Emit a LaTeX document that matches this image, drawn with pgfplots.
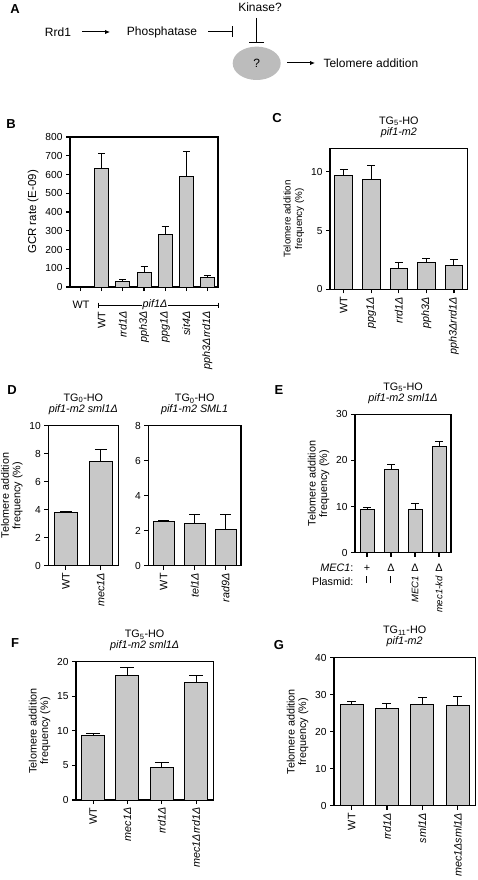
\documentclass[border=0pt]{standalone}
\usepackage{fontspec}
\setmainfont{Liberation Sans}
\usepackage{pgfplots}
\pgfplotsset{compat=1.18}
\usetikzlibrary{arrows.meta}
\definecolor{barfill}{RGB}{200,200,200}
\definecolor{ellfill}{RGB}{188,188,188}
\newcommand{\pf}{\fontsize{10.8}{11.5}\selectfont}
\newcommand{\tf}{\fontsize{10.2}{11}\selectfont}
\newcommand{\af}{\fontsize{12}{14}\selectfont}
\newcommand{\lf}{\bfseries\fontsize{13}{13}\selectfont}
\newcommand{\plasdash}{\raisebox{0.3ex}{\rule{7pt}{0.9pt}}}
\pgfplotsset{
  panel/.style={
    scale only axis, anchor=south west,
    ybar, ymin=0, clip=false,
    axis line style={line width=1.3pt},
    tick style={black, line width=1.2pt},
    major tick length=4pt,
    tick align=outside,
    tick pos=left,
    xtick=data,
    x tick label style={rotate=90, anchor=east, font=\pf},
    y tick label style={font=\tf},
    /pgf/number format/assume math mode=true,
    label style={font=\pf, align=center},
    title style={font=\pf, align=center, yshift=1pt},
  },
  bars/.style={fill=barfill, draw=black, line width=1pt,
    error bars/.cd, y dir=plus, y explicit,
    error bar style={line width=1pt, black},
    error mark options={rotate=90, line width=1pt, black, mark size=#1}},
}
\begin{document}
\begin{tikzpicture}
\path[use as bounding box] (0pt,0pt) rectangle (478pt,-880pt);

% ---------------- Panel A ----------------
\node[font=\lf] at (15pt,-9.5pt) {A};
\begin{scope}[font=\af]
\node at (58pt,-32pt) {Rrd1};
\draw[line width=1pt,-{Latex[length=5pt,width=4.5pt]}] (82pt,-32pt) -- (110pt,-32pt);
\node at (162pt,-32pt) {Phosphatase};
\draw[line width=1pt,-{Bar[width=11pt]}] (208pt,-32pt) -- (233pt,-32pt);
\node at (260pt,-7.5pt) {Kinase?};
\draw[line width=1pt,-{Bar[width=15pt]}] (256.7pt,-18pt) -- (256.7pt,-43pt);
\fill[ellfill] (256.7pt,-63.3pt) ellipse (24pt and 16.7pt);
\node at (256.7pt,-63.3pt) {?};
\draw[line width=1pt,-{Latex[length=5pt,width=4.5pt]}] (287pt,-63pt) -- (315pt,-63pt);
\node[anchor=west] at (320pt,-63pt) {Telomere addition};
\end{scope}

% ---------------- Panel B ----------------
\node[font=\lf] at (11pt,-124pt) {B};
\begin{axis}[panel, at={(70pt,-287pt)}, width=148pt, height=150pt,
  xmin=-0.5, xmax=6.5, ymax=800, ytick={0,100,...,800},
  bar width=14pt, xticklabel shift=17pt,
  xticklabels={,WT,\textit{rrd1Δ},\textit{pph3Δ},\textit{ppg1Δ},\textit{sit4Δ},\textit{pph3Δrrd1Δ}},
  ylabel={\fontsize{11.5}{12}\selectfont GCR rate (E-09)}]
\addplot[bars=3.5pt] coordinates {(0,4) +- (0,0) (1,631) +- (0,80) (2,27) +- (0,12) (3,78) +- (0,32) (4,281) +- (0,44) (5,592) +- (0,132) (6,52) +- (0,12)};
\end{axis}
\node[font=\pf] at (81pt,-305pt) {WT};
\draw[line width=0.8pt] (98pt,-305pt) -- (218pt,-305pt);
\draw[line width=0.8pt] (98pt,-302.5pt) -- (98pt,-307.5pt);
\draw[line width=0.8pt] (218pt,-302.5pt) -- (218pt,-307.5pt);
\node[font=\pf, fill=white, inner sep=1pt] at (155pt,-305pt) {\textit{pif1Δ}};

% ---------------- Panel C ----------------
\node[font=\lf] at (277pt,-118pt) {C};
\begin{axis}[panel, at={(330pt,-289.3pt)}, width=137.7pt, height=141pt,
  xmin=-0.5, xmax=4.5, ymax=12, ytick={0,5,10},
  bar width=17.7pt,
  xticklabels={WT,\textit{ppg1Δ},\textit{rrd1Δ},\textit{pph3Δ},\textit{pph3Δrrd1Δ}},
  title={TG\textsubscript{5}-HO\\\textit{pif1-m2}},
  ylabel={\fontsize{9.8}{11}\selectfont Telomere addition\\\fontsize{9.8}{11}\selectfont frequency (\%)}]
\addplot[bars=4pt] coordinates {(0,9.72) +- (0,0.48) (1,9.35) +- (0,1.15) (2,1.78) +- (0,0.51) (3,2.32) +- (0,0.31) (4,2.0) +- (0,0.55)};
\end{axis}

% ---------------- Panel D ----------------
\node[font=\lf] at (12pt,-390pt) {D};
\begin{axis}[panel, at={(48.3pt,-565.5pt)}, width=70pt, height=140pt,
  xmin=-0.5, xmax=1.5, ymax=10, ytick={0,2,...,10},
  bar width=23pt,
  xticklabels={WT,\textit{mec1Δ}},
  title={TG\textsubscript{0}-HO\\\textit{pif1-m2 sml1Δ}},
  ylabel={Telomere addition\\frequency (\%)}]
\addplot[bars=6pt] coordinates {(0,3.77) +- (0,0.07) (1,7.45) +- (0,0.85)};
\end{axis}
\begin{axis}[panel, at={(148.3pt,-565.7pt)}, width=92.7pt, height=140pt,
  xmin=-0.5, xmax=2.5, ymax=8, ytick={0,2,...,8},
  bar width=21pt,
  xticklabels={WT,\textit{tel1Δ},\textit{rad9Δ}},
  title={TG\textsubscript{0}-HO\\\textit{pif1-m2 SML1}}]
\addplot[bars=5.3pt] coordinates {(0,2.51) +- (0,0.08) (1,2.4) +- (0,0.55) (2,2.06) +- (0,0.89)};
\end{axis}

% ---------------- Panel E ----------------
\node[font=\lf] at (279pt,-390pt) {E};
\begin{axis}[panel, at={(355pt,-552.7pt)}, width=96pt, height=138.4pt,
  xmin=-0.5, xmax=3.5, ymax=30, ytick={0,10,20,30},
  bar width=14pt, xticklabel shift=16pt,
  x tick label style={font=\fontsize{9.5}{10}\selectfont},
  xticklabels={\plasdash,\plasdash,\textit{MEC1},\textit{mec1-kd}},
  title={TG\textsubscript{5}-HO\\\textit{pif1-m2 sml1Δ}},
  ylabel={Telomere addition\\frequency (\%)}]
\addplot[bars=3.7pt] coordinates {(0,9.4) +- (0,0.3) (1,18.1) +- (0,1.1) (2,9.4) +- (0,1.2) (3,23.0) +- (0,1.0)};
\node[font=\pf] at (axis cs:0,0) [yshift=-15.5pt] {+};
\node[font=\pf] at (axis cs:1,0) [yshift=-15.5pt] {Δ};
\node[font=\pf] at (axis cs:2,0) [yshift=-15.5pt] {Δ};
\node[font=\pf] at (axis cs:3,0) [yshift=-15.5pt] {Δ};
\node[font=\pf, anchor=east] at (rel axis cs:0,0) [xshift=2pt, yshift=-15.5pt] {\textit{MEC1}:};
\node[font=\pf, anchor=east] at (rel axis cs:0,0) [xshift=2pt, yshift=-29pt] {Plasmid:};
\end{axis}

% ---------------- Panel F ----------------
\node[font=\lf] at (15pt,-643pt) {F};
\begin{axis}[panel, at={(76pt,-800pt)}, width=137.3pt, height=138.3pt,
  xmin=-0.5, xmax=3.5, ymax=20, ytick={0,5,...,20},
  bar width=23pt,
  xticklabels={WT,\textit{mec1Δ},\textit{rrd1Δ},\textit{mec1Δrrd1Δ}},
  title={TG\textsubscript{5}-HO\\\textit{pif1-m2 sml1Δ}},
  ylabel={Telomere addition\\frequency (\%)}]
\addplot[bars=7pt] coordinates {(0,9.3) +- (0,0.3) (1,18.0) +- (0,1.2) (2,4.63) +- (0,0.82) (3,16.96) +- (0,1.04)};
\end{axis}

% ---------------- Panel G ----------------
\node[font=\lf] at (279pt,-645pt) {G};
\begin{axis}[panel, at={(334pt,-805.7pt)}, width=141.3pt, height=148pt,
  xmin=-0.5, xmax=3.5, ymax=40, ytick={0,10,...,40},
  bar width=23pt,
  xticklabels={WT,\textit{rrd1Δ},\textit{sml1Δ},\textit{mec1Δsml1Δ}},
  title={TG\textsubscript{11}-HO\\\textit{pif1-m2}},
  ylabel={Telomere addition\\frequency (\%)}]
\addplot[bars=4.5pt] coordinates {(0,27.4) +- (0,0.9) (1,26.2) +- (0,1.5) (2,27.4) +- (0,1.9) (3,27.0) +- (0,2.6)};
\end{axis}
\end{tikzpicture}
\end{document}
